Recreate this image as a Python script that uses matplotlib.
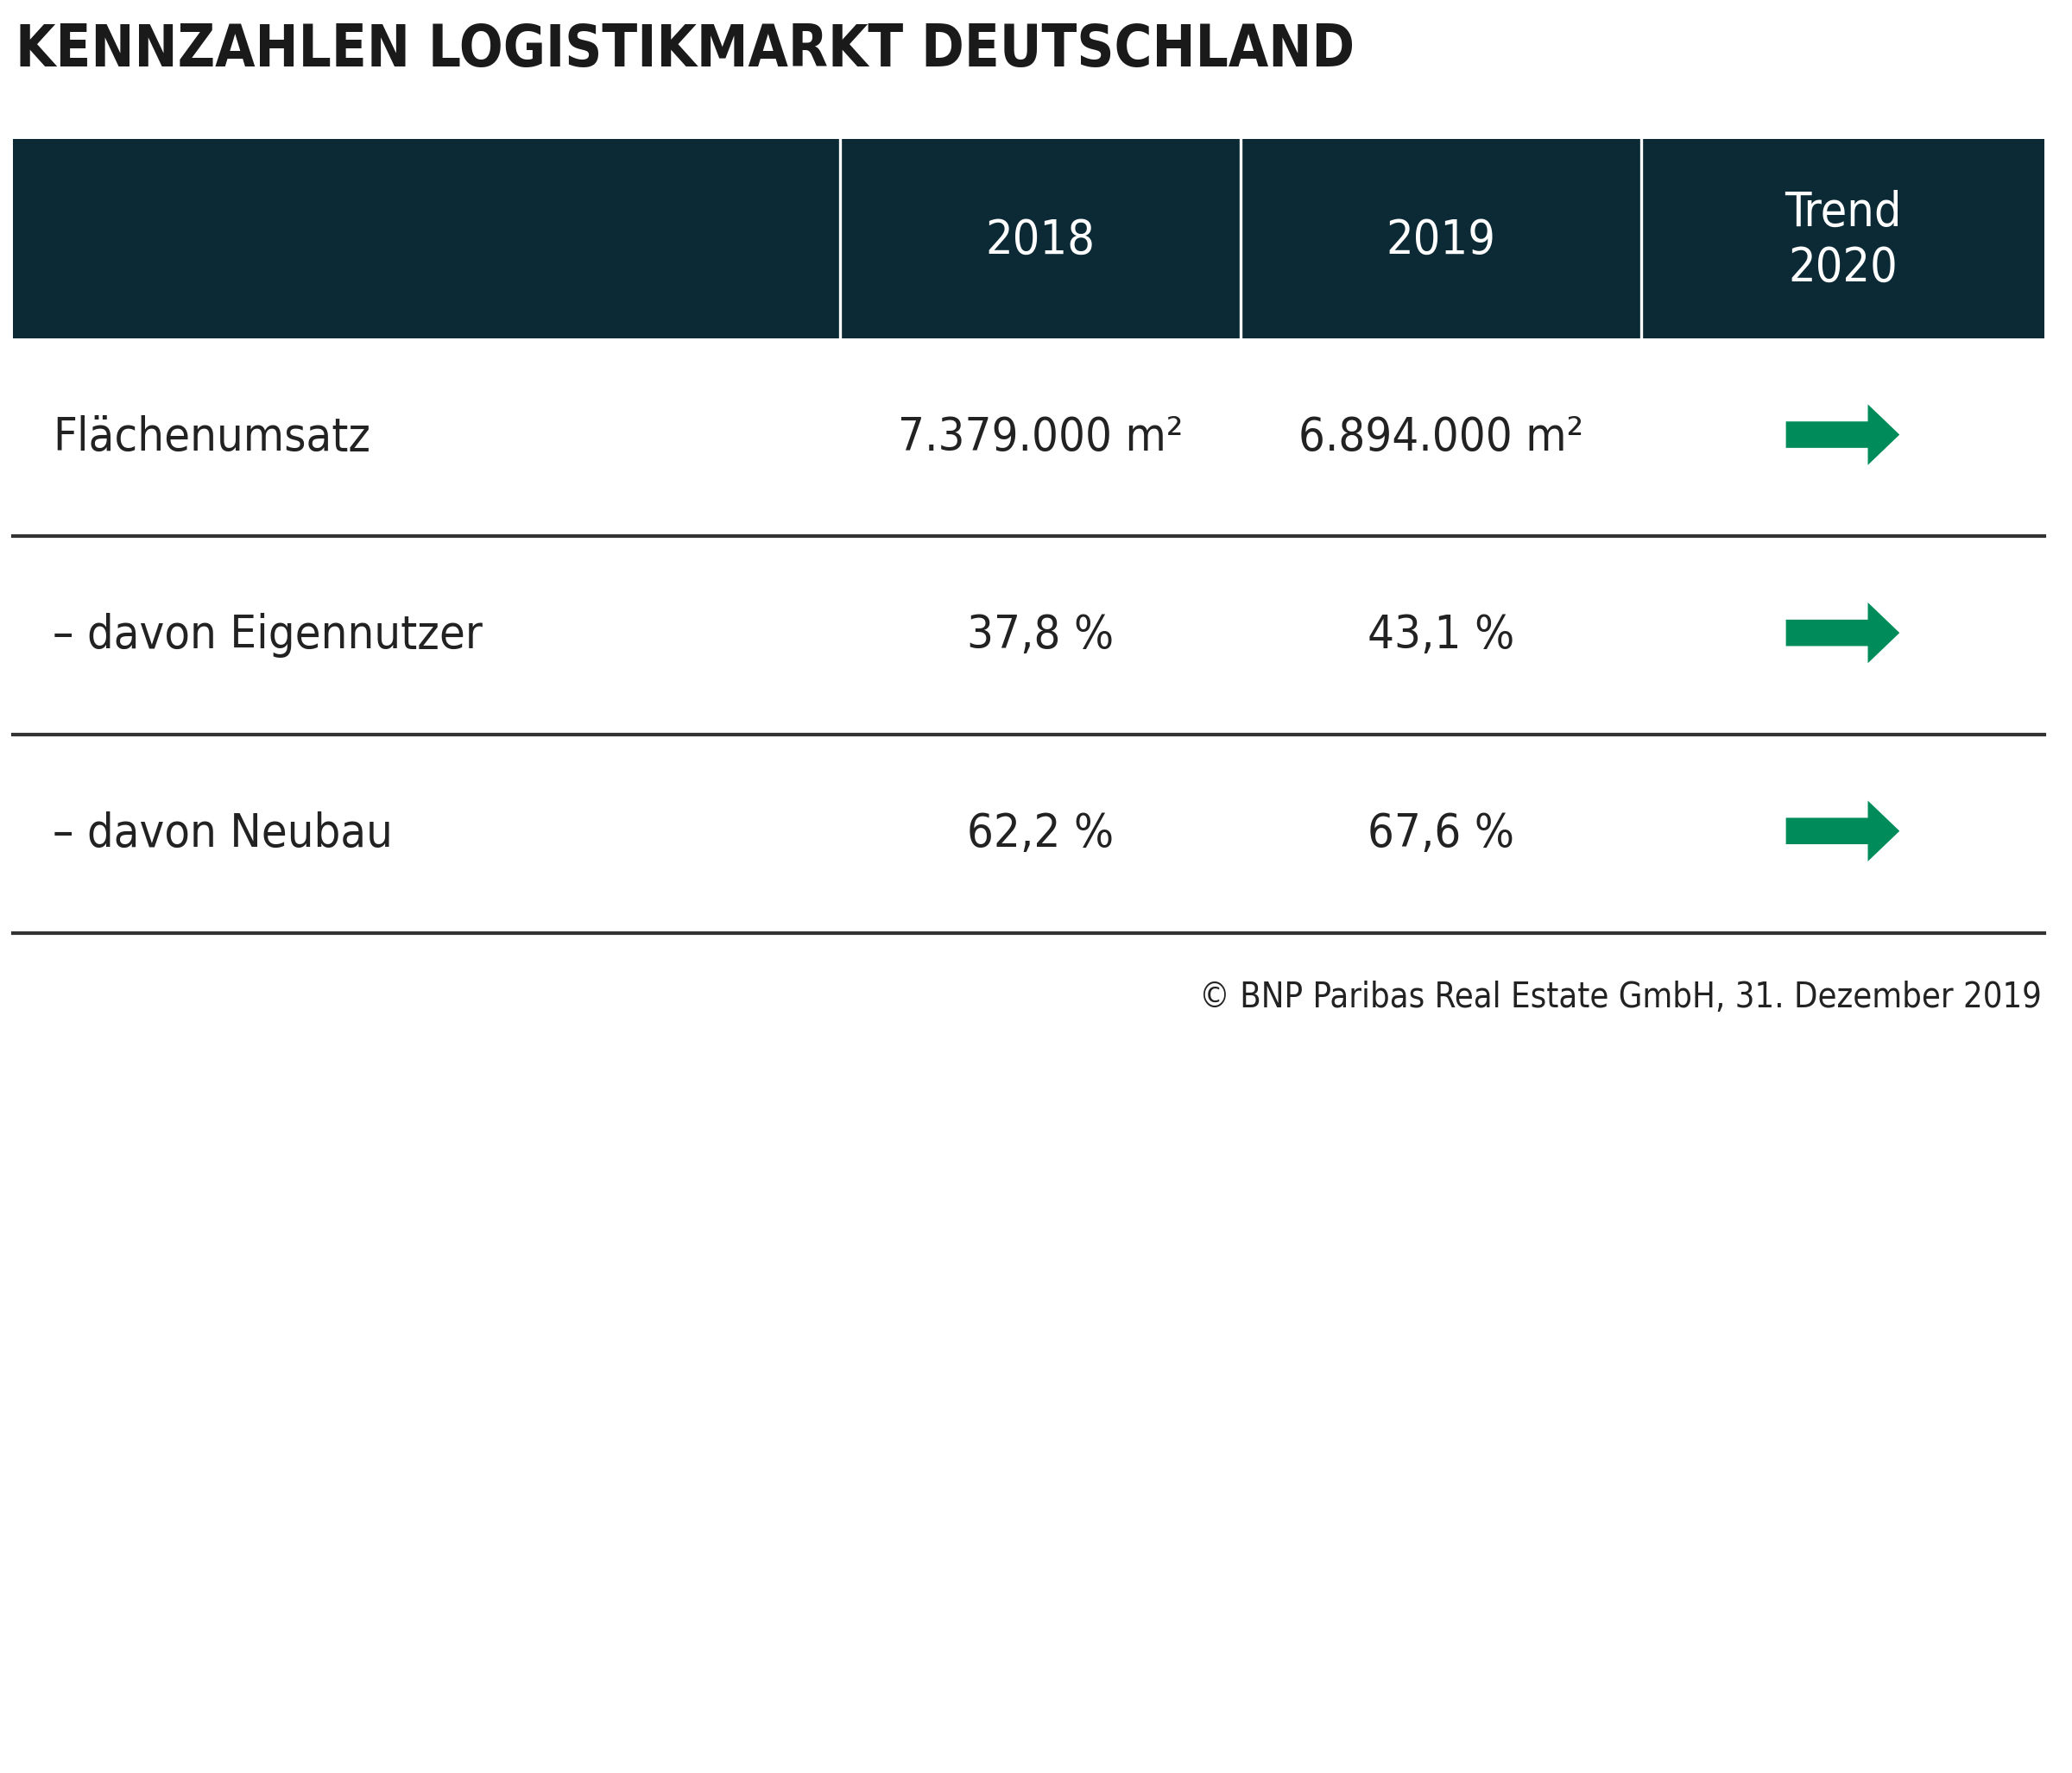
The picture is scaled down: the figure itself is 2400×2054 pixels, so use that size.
import matplotlib.pyplot as plt
from matplotlib.patches import Rectangle, FancyArrow

# data
title = "KENNZAHLEN LOGISTIKMARKT DEUTSCHLAND"
headers = ["2018", "2019", "Trend\n2020"]
rows = ["Flächenumsatz", "– davon Eigennutzer", "– davon Neubau"]
vals_2018 = ["7.379.000 m²", "37,8 %", "62,2 %"]
vals_2019 = ["6.894.000 m²", "43,1 %", "67,6 %"]
trend = ["right", "right", "right"]
source = "© BNP Paribas Real Estate GmbH, 31. Dezember 2019"

plt.rcParams["font.family"] = ["DejaVu Sans"]
plt.rcParams["font.stretch"] = "condensed"
DARK = "#0b2a35"
GREEN = "#008c5a"
TXT = "#222222"

fig = plt.figure(figsize=(12, 10.27), dpi=200)
ax = fig.add_axes([0, 0, 1, 1])
ax.set_xlim(0, 1568)
ax.set_ylim(1342, 0)
ax.axis("off")

ax.text(12, 38, title, fontsize=24, fontweight="bold", color="#1a1a1a", va="center", ha="left")

# header
left, right = 10, 1547
col_edges = [left, 636, 939, 1242, right]
col_centers = [(col_edges[i] + col_edges[i + 1]) / 2 for i in range(1, 4)]
ax.add_patch(Rectangle((left, 105), right - left, 151, color=DARK, lw=0))
for x in col_edges[1:4]:
    ax.plot([x, x], [105, 256], color="white", lw=1.2)
for cx, h in zip(col_centers, headers):
    ax.text(cx, 182, h, color="white", fontsize=20, ha="center", va="center", linespacing=1.25)

# rows
row_h = 150
for i, name in enumerate(rows):
    cy = 256 + row_h * i + row_h / 2
    ax.text(40, cy, name, fontsize=19.5, color=TXT, ha="left", va="center")
    ax.text(col_centers[0], cy, vals_2018[i], fontsize=19.5, color=TXT, ha="center", va="center")
    ax.text(col_centers[1], cy, vals_2019[i], fontsize=19.5, color=TXT, ha="center", va="center")
    if trend[i] == "right":
        ax.add_patch(FancyArrow(col_centers[2] - 43, cy - 2, 86, 0, width=20, head_width=46,
                                head_length=24, length_includes_head=True, color=GREEN, lw=0))
    yl = 256 + row_h * (i + 1)
    ax.plot([left, right], [yl, yl], color="#333333", lw=1.5)

ax.text(1545, 755, source, fontsize=14.3, color=TXT, ha="right", va="center")

fig.savefig("out.png", dpi=200, facecolor="white")
